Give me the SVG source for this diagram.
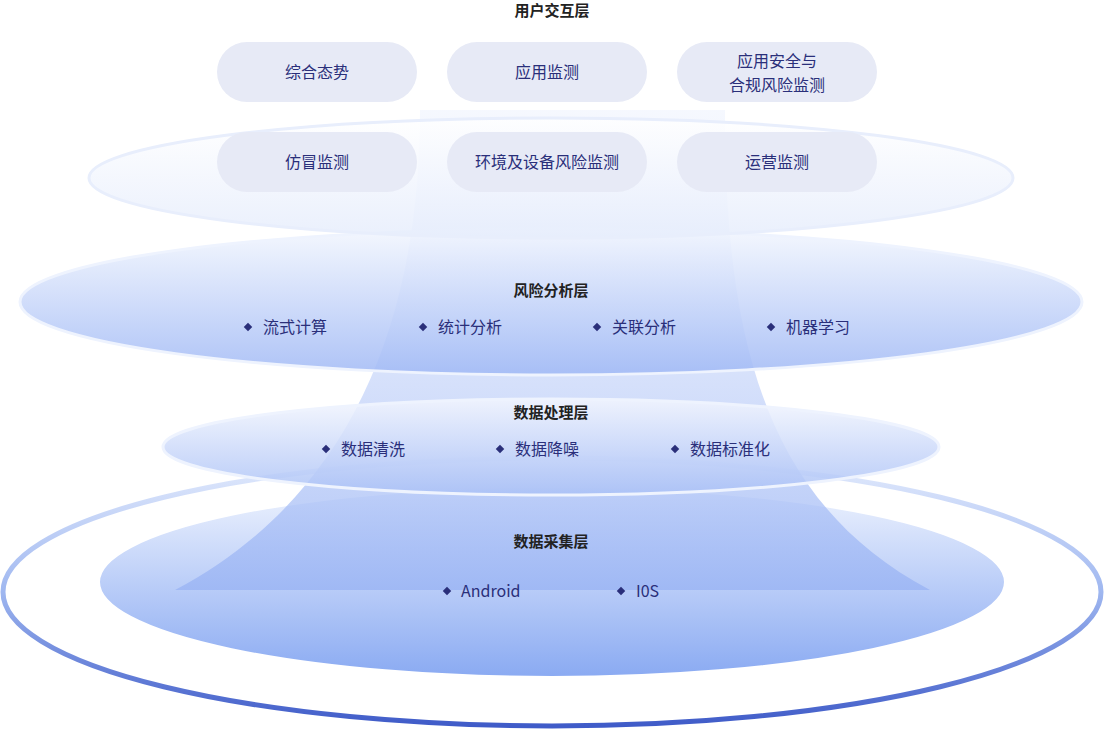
<svg xmlns="http://www.w3.org/2000/svg" width="1104" height="729" viewBox="0 0 1104 729">
<style>
.t{font-family:"Noto Sans CJK SC","Liberation Sans",sans-serif;font-size:16px;fill:#2a2f7a;text-anchor:middle}
.h{font-family:"Noto Sans CJK SC","Liberation Sans",sans-serif;font-size:15px;font-weight:bold;fill:#222;text-anchor:middle}
.i{font-family:"Noto Sans CJK SC","Liberation Sans",sans-serif;font-size:16px;fill:#2a2f7a}
.b{fill:#e7eaf6}
.d{fill:#2a2f7a}
</style>
<defs>
<linearGradient id="ring" x1="0" y1="0" x2="0" y2="1"><stop offset="0" stop-color="#e4ecfd"/><stop offset="0.5" stop-color="#9fb7f0"/><stop offset="1" stop-color="#3f5bc8"/></linearGradient>
<linearGradient id="base" x1="0" y1="0" x2="0" y2="1"><stop offset="0" stop-color="#eef3fe"/><stop offset="1" stop-color="#8aaaf2"/></linearGradient>
<linearGradient id="mid" x1="0" y1="0" x2="0" y2="1"><stop offset="0" stop-color="#f3f6fe"/><stop offset="1" stop-color="#a9c0f6"/></linearGradient>
<linearGradient id="risk" x1="0" y1="0" x2="0" y2="1"><stop offset="0" stop-color="#f2f6fe"/><stop offset="1" stop-color="#9fb8f5"/></linearGradient>
<linearGradient id="top" x1="0" y1="0" x2="0" y2="1"><stop offset="0" stop-color="#ffffff"/><stop offset="1" stop-color="#e6edfc"/></linearGradient>
<linearGradient id="beam" x1="0" y1="0" x2="0" y2="1"><stop offset="0" stop-color="#dfe8fd" stop-opacity="0.3"/><stop offset="1" stop-color="#9ab4f4" stop-opacity="0.8"/></linearGradient>
</defs>
<g id="layers">
<ellipse id="ring-outer" cx="552" cy="592" rx="549" ry="134" fill="#fff" stroke="url(#ring)" stroke-width="5"/>
<ellipse id="collect" cx="552" cy="582" rx="453" ry="95" fill="url(#base)" stroke="#ffffff" stroke-width="2"/>
<path id="beam" d="M420 110 L725 110 C725 330 760 500 930 590 L175 590 C345 500 420 330 420 110 Z" fill="url(#beam)"/>
<ellipse id="process" cx="551" cy="447" rx="388" ry="48" fill="url(#mid)" fill-opacity="0.85" stroke="#eef3fe" stroke-width="3"/>
<ellipse id="risk-l" cx="551" cy="302" rx="531" ry="73" fill="url(#risk)" fill-opacity="0.85" stroke="#eef3fe" stroke-width="3"/>
<ellipse id="user-l" cx="551" cy="178" rx="462" ry="60" fill="url(#top)" fill-opacity="0.85" stroke="#e8eefc" stroke-width="3"/>
</g>
<text class="h" x="552" y="16">用户交互层</text>
<g id="n1"><rect class="b" x="217" y="42" width="200" height="60" rx="30"/><text class="t" x="317" y="78">综合态势</text></g>
<g id="n2"><rect class="b" x="447" y="42" width="200" height="60" rx="30"/><text class="t" x="547" y="78">应用监测</text></g>
<g id="n3"><rect class="b" x="677" y="42" width="200" height="60" rx="30"/><text class="t" x="777" y="67">应用安全与</text><text class="t" x="777" y="91">合规风险监测</text></g>
<g id="n4"><rect class="b" x="217" y="132" width="200" height="60" rx="30"/><text class="t" x="317" y="168">仿冒监测</text></g>
<g id="n5"><rect class="b" x="447" y="132" width="200" height="60" rx="30"/><text class="t" x="547" y="168">环境及设备风险监测</text></g>
<g id="n6"><rect class="b" x="677" y="132" width="200" height="60" rx="30"/><text class="t" x="777" y="168">运营监测</text></g>
<g id="risk-t">
<text class="h" x="551" y="296">风险分析层</text>
<rect class="d" x="245" y="324" width="6" height="6" transform="rotate(45 248 327)"/><text class="i" x="263" y="333">流式计算</text>
<rect class="d" x="420" y="324" width="6" height="6" transform="rotate(45 423 327)"/><text class="i" x="438" y="333">统计分析</text>
<rect class="d" x="594" y="324" width="6" height="6" transform="rotate(45 597 327)"/><text class="i" x="612" y="333">关联分析</text>
<rect class="d" x="768" y="324" width="6" height="6" transform="rotate(45 771 327)"/><text class="i" x="786" y="333">机器学习</text>
</g>
<g id="proc-t">
<text class="h" x="551" y="418">数据处理层</text>
<rect class="d" x="323" y="446" width="6" height="6" transform="rotate(45 326 449)"/><text class="i" x="341" y="455">数据清洗</text>
<rect class="d" x="497" y="446" width="6" height="6" transform="rotate(45 500 449)"/><text class="i" x="515" y="455">数据降噪</text>
<rect class="d" x="672" y="446" width="6" height="6" transform="rotate(45 675 449)"/><text class="i" x="690" y="455">数据标准化</text>
</g>
<g id="coll-t">
<text class="h" x="551" y="547">数据采集层</text>
<rect class="d" x="444" y="588" width="6" height="6" transform="rotate(45 447 591)"/><text class="i" x="461" y="597">Android</text>
<rect class="d" x="618" y="588" width="6" height="6" transform="rotate(45 621 591)"/><text class="i" x="636" y="597">I0S</text>
</g>
<g id="connectors"/>
</svg>
